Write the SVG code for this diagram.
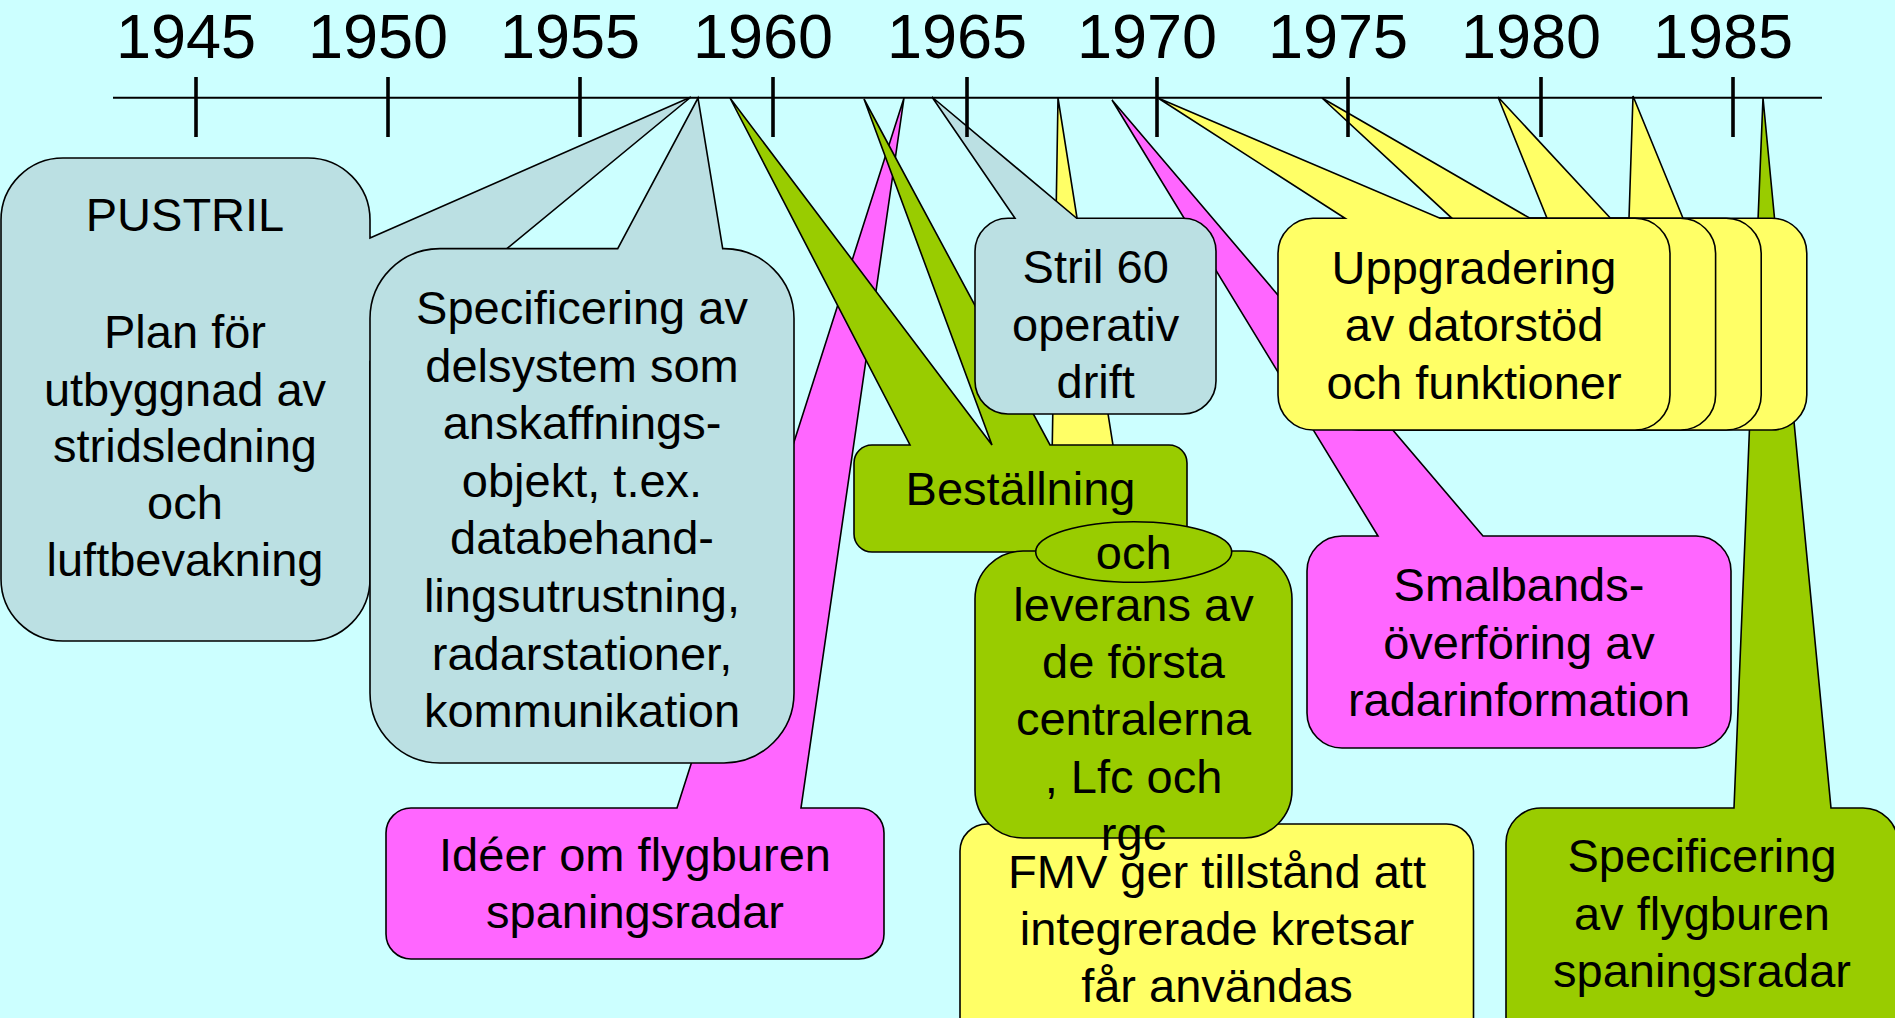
<svg xmlns="http://www.w3.org/2000/svg" width="1895" height="1018" viewBox="0 0 1895 1018">
<style>
.t{font-family:"Liberation Sans",Arial,sans-serif;font-size:47px;text-anchor:middle;fill:#000}
.yr{font-size:63px}
.s{stroke:#000;stroke-width:1.6;stroke-linejoin:miter}
.b{fill:#BBE0E3}.m{fill:#FF66FF}.g{fill:#99CC00}.y{fill:#FFFF66}
.tick{stroke:#000;stroke-width:3.6}
</style>
<rect width="1895" height="1018" fill="#CCFFFF"/>

<g id="pustril">
<path class="s b" d="M63,158 L308,158 A62,62 0 0 1 370,220 L370,238 L691,97 L370,361.5 L370,579 A62,62 0 0 1 308,641 L63,641 A62,62 0 0 1 1,579 L1,220 A62,62 0 0 1 63,158 Z"/>
<text class="t"><tspan x="185" y="231">PUSTRIL</tspan><tspan x="185" y="348">Plan för</tspan><tspan x="185" y="405.5">utbyggnad av</tspan><tspan x="185" y="461.5">stridsledning</tspan><tspan x="185" y="519">och</tspan><tspan x="185" y="576">luftbevakning</tspan></text>
</g>

<g id="ideer">
<path class="s m" d="M411,808 L677,808 L904,98 L801,808 L859,808 A25,25 0 0 1 884,833 L884,934 A25,25 0 0 1 859,959 L411,959 A25,25 0 0 1 386,934 L386,833 A25,25 0 0 1 411,808 Z"/>
<text class="t"><tspan x="635" y="870.5">Idéer om flygburen</tspan><tspan x="635" y="928">spaningsradar</tspan></text>
</g>

<g id="specificering-delsystem">
<path class="s b" d="M440,248.6 L617.7,248.6 L698,98 L722.7,248.6 L724,248.6 A70,70 0 0 1 794,318.6 L794,693 A70,70 0 0 1 724,763 L440,763 A70,70 0 0 1 370,693 L370,318.6 A70,70 0 0 1 440,248.6 Z"/>
<text class="t"><tspan x="582" y="324">Specificering av</tspan><tspan x="582" y="381.6">delsystem som</tspan><tspan x="582" y="439.2">anskaffnings-</tspan><tspan x="582" y="496.8">objekt, t.ex.</tspan><tspan x="582" y="554.4">databehand-</tspan><tspan x="582" y="612">lingsutrustning,</tspan><tspan x="582" y="669.6">radarstationer,</tspan><tspan x="582" y="727.2">kommunikation</tspan></text>
</g>

<g id="fmv">
<path class="s y" d="M987,824 L1046,824 L1058,98 L1173,824 L1446.5,824 A27,27 0 0 1 1473.5,851 L1473.5,1063 A27,27 0 0 1 1446.5,1090 L987,1090 A27,27 0 0 1 960,1063 L960,851 A27,27 0 0 1 987,824 Z"/>
<text class="t"><tspan x="1217" y="888">FMV ger tillstånd att</tspan><tspan x="1217" y="945">integrerade kretsar</tspan><tspan x="1217" y="1002">får användas</tspan></text>
</g>

<g id="bestallning">
<path class="s g" d="M872,445 L910,445 L730,98 L992,445 L864,99 L1050,445 L1169,445 A18,18 0 0 1 1187,463 L1187,534 A18,18 0 0 1 1169,552 L872,552 A18,18 0 0 1 854,534 L854,463 A18,18 0 0 1 872,445 Z"/>
<text class="t" x="1020.5" y="505">Beställning</text>
</g>

<g id="smalbands">
<path class="s m" d="M1342,536 L1378,536 L1112,100 L1483,536 L1696,536 A35,35 0 0 1 1731,571 L1731,713 A35,35 0 0 1 1696,748 L1342,748 A35,35 0 0 1 1307,713 L1307,571 A35,35 0 0 1 1342,536 Z"/>
<text class="t"><tspan x="1519" y="601">Smalbands-</tspan><tspan x="1519" y="658.5">överföring av</tspan><tspan x="1519" y="716">radarinformation</tspan></text>
</g>

<g id="stril60">
<path class="s b" d="M1008,218.3 L1015,218.3 L932,97 L1076.7,218.3 L1183,218.3 A33,33 0 0 1 1216,251.3 L1216,381 A33,33 0 0 1 1183,414 L1008,414 A33,33 0 0 1 975,381 L975,251.3 A33,33 0 0 1 1008,218.3 Z"/>
<text class="t"><tspan x="1095.7" y="283">Stril 60</tspan><tspan x="1095.7" y="340.5">operativ</tspan><tspan x="1095.7" y="398">drift</tspan></text>
</g>

<g id="leverans">
<rect class="s g" x="975" y="551" width="317" height="287" rx="48" ry="48"/>
<ellipse class="s g" cx="1133.7" cy="552" rx="98" ry="30.3"/>
<text class="t" x="1133.7" y="569">och</text>
<text class="t"><tspan x="1133.5" y="621">leverans av</tspan><tspan x="1133.5" y="678">de första</tspan><tspan x="1133.5" y="735">centralerna</tspan><tspan x="1133.5" y="792.5">, Lfc och</tspan><tspan x="1133.5" y="850">rgc</tspan></text>
</g>

<g id="specificering-flygburen">
<path class="s g" d="M1541,808 L1734,808 L1763,98 L1831,808 L1863,808 A35,35 0 0 1 1898,843 L1898,1055 A35,35 0 0 1 1863,1090 L1541,1090 A35,35 0 0 1 1506,1055 L1506,843 A35,35 0 0 1 1541,808 Z"/>
<text class="t"><tspan x="1702" y="872">Specificering</tspan><tspan x="1702" y="929.5">av flygburen</tspan><tspan x="1702" y="987">spaningsradar</tspan></text>
</g>

<g id="uppgradering">
<path class="s y" d="M1449.8,218.3 L1629,218.3 L1633,96 L1683,218.3 L1771.8,218.3 A35,35 0 0 1 1806.8,253.3 L1806.8,395 A35,35 0 0 1 1771.8,430 L1449.8,430 A35,35 0 0 1 1414.8,395 L1414.8,253.3 A35,35 0 0 1 1449.8,218.3 Z"/>
<path class="s y" d="M1404.2,218.3 L1547,218.3 L1498,97 L1610.5,218.3 L1726.2,218.3 A35,35 0 0 1 1761.2,253.3 L1761.2,395 A35,35 0 0 1 1726.2,430 L1404.2,430 A35,35 0 0 1 1369.2,395 L1369.2,253.3 A35,35 0 0 1 1404.2,218.3 Z"/>
<path class="s y" d="M1358.6,218.3 L1452,218.3 L1322,98 L1530,218.3 L1680.6,218.3 A35,35 0 0 1 1715.6,253.3 L1715.6,395 A35,35 0 0 1 1680.6,430 L1358.6,430 A35,35 0 0 1 1323.6,395 L1323.6,253.3 A35,35 0 0 1 1358.6,218.3 Z"/>
<path class="s y" d="M1313,218.3 L1345,218.3 L1158,98 L1440,218.3 L1635,218.3 A35,35 0 0 1 1670,253.3 L1670,395 A35,35 0 0 1 1635,430 L1313,430 A35,35 0 0 1 1278,395 L1278,253.3 A35,35 0 0 1 1313,218.3 Z"/>
<text class="t"><tspan x="1474" y="283.5">Uppgradering</tspan><tspan x="1474" y="341">av datorstöd</tspan><tspan x="1474" y="398.5">och funktioner</tspan></text>
</g>

<g id="timeline">
<line x1="113" y1="97.7" x2="1822" y2="97.7" stroke="#000" stroke-width="2"/>
<line class="tick" x1="196" y1="77" x2="196" y2="137"/>
<line class="tick" x1="388" y1="77" x2="388" y2="137"/>
<line class="tick" x1="580" y1="77" x2="580" y2="137"/>
<line class="tick" x1="773" y1="77" x2="773" y2="137"/>
<line class="tick" x1="967" y1="77" x2="967" y2="137"/>
<line class="tick" x1="1157" y1="77" x2="1157" y2="137"/>
<line class="tick" x1="1348" y1="77" x2="1348" y2="137"/>
<line class="tick" x1="1541" y1="77" x2="1541" y2="137"/>
<line class="tick" x1="1733" y1="77" x2="1733" y2="137"/>
<text class="t yr" x="186" y="58">1945</text>
<text class="t yr" x="378" y="58">1950</text>
<text class="t yr" x="570" y="58">1955</text>
<text class="t yr" x="763" y="58">1960</text>
<text class="t yr" x="957" y="58">1965</text>
<text class="t yr" x="1147" y="58">1970</text>
<text class="t yr" x="1338" y="58">1975</text>
<text class="t yr" x="1531" y="58">1980</text>
<text class="t yr" x="1723" y="58">1985</text>
</g>
</svg>
